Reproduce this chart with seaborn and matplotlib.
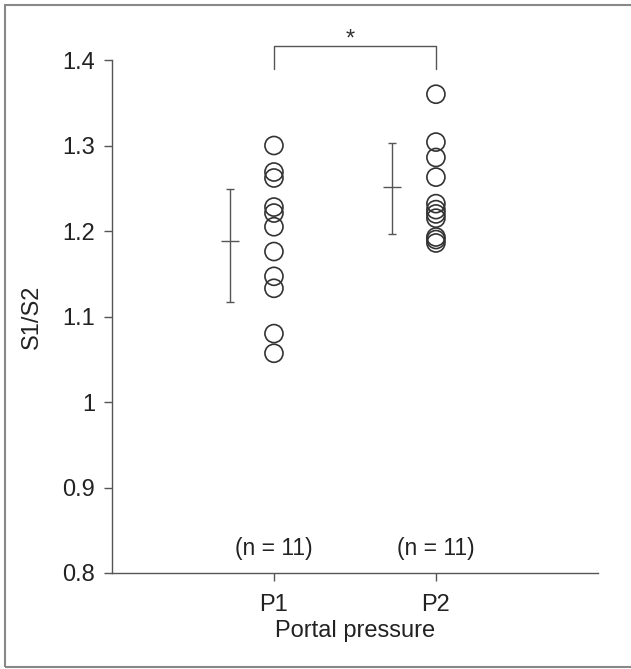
import matplotlib
matplotlib.use("Agg")
import matplotlib.pyplot as plt
import matplotlib.patches as mpatches
import seaborn as sns
import pandas as pd
import numpy as np

# ---- data ----
groups = ["P1", "P2"]
p1_values = [1.300, 1.269, 1.262, 1.228, 1.221, 1.205, 1.176, 1.147, 1.133, 1.080, 1.057]
p2_values = [1.360, 1.304, 1.286, 1.263, 1.232, 1.225, 1.220, 1.215, 1.193, 1.190, 1.186]
group_means = [1.188, 1.252]
group_upper = [1.249, 1.303]
group_lower = [1.117, 1.196]
n_labels = ["(n = 11)", "(n = 11)"]
y_ticks = [0.8, 0.9, 1.0, 1.1, 1.2, 1.3, 1.4]
y_tick_labels = ["0.8", "0.9", "1", "1.1", "1.2", "1.3", "1.4"]

df = pd.DataFrame({
    "group": ["P1"] * len(p1_values) + ["P2"] * len(p2_values),
    "value": p1_values + p2_values,
})

sns.set_style("ticks")
plt.rcParams["font.family"] = ["Liberation Sans", "DejaVu Sans"]

fig = plt.figure(figsize=(6.31, 6.69), dpi=100)
ax = fig.add_axes([0.1775, 0.1435, 0.770, 0.7668])

line_col = "#555555"
sns.stripplot(data=df, x="group", y="value", order=groups, jitter=False,
              s=13, color="#333333", linewidth=1.2, edgecolor="#333333", ax=ax)
for coll in ax.collections:
    coll.set_facecolor("none")
    coll.set_edgecolor("#333333")

# error bars (mean with range), offset to the left of points
off = -0.27
xs = np.arange(len(groups)) + off
means = np.array(group_means)
yerr = [means - np.array(group_lower), np.array(group_upper) - means]
ax.errorbar(xs, means, yerr=yerr, fmt="none", ecolor=line_col,
            elinewidth=1.0, capsize=3, capthick=1.0)
ax.hlines(means, xs - 0.055, xs + 0.055, color=line_col, lw=1.0)

# significance bracket
yb, yt = 1.390, 1.416
ax.plot([0, 0, 1, 1], [yb, yt, yt, yb], color=line_col, lw=1.0, clip_on=False)
ax.text(0.47, 1.4175, "*", ha="center", va="baseline", fontsize=17, color="#333333")

# n labels
for i, lab in enumerate(n_labels):
    ax.text(i, 0.829, lab, ha="center", va="center", fontsize=16.5, color="#222222")

ax.set_xlim(-1, 2)
ax.set_ylim(0.8, 1.4)
ax.set_yticks(y_ticks)
ax.set_yticklabels(y_tick_labels)
ax.set_xticks([0, 1])
ax.set_xticklabels(groups)
ax.tick_params(axis="both", labelsize=17, length=6, width=1.0, color=line_col,
               labelcolor="#222222", pad=6)
ax.tick_params(axis="x", pad=9)
ax.set_xlabel("Portal pressure", fontsize=17, color="#222222", labelpad=3)
ax.set_ylabel("S1/S2", fontsize=17, color="#222222", labelpad=14)
for s in ["left", "bottom"]:
    ax.spines[s].set_color(line_col)
    ax.spines[s].set_linewidth(1.0)
ax.spines["top"].set_visible(False)
ax.spines["right"].set_visible(False)

# outer frame
fig.patches.append(mpatches.Rectangle((5 / 631, 2 / 669), 1.0, 1 - 7 / 669,
                                      transform=fig.transFigure, fill=False,
                                      edgecolor="#888888", lw=1.5))

fig.savefig("out.png", dpi=100)
